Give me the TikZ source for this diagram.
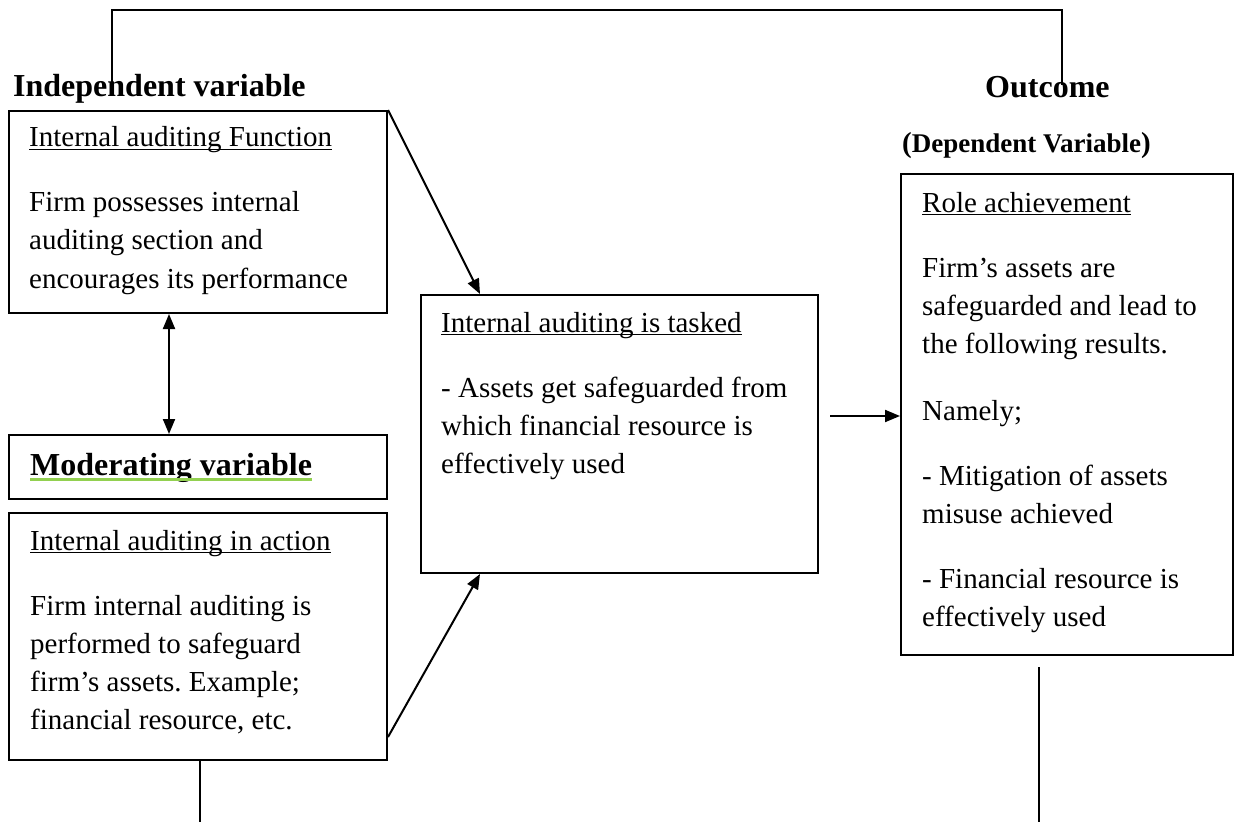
\documentclass[tikz,border=0pt]{standalone}
\usepackage{fontspec}
\setmainfont{Liberation Serif}
\usepackage{tikz}
\usetikzlibrary{arrows.meta}
\definecolor{wordgreen}{HTML}{92D050}
\newcommand{\bodyfont}{\fontsize{29}{38}\selectfont}
\newcommand{\headfont}{\fontsize{32}{38}\selectfont\bfseries}
\newcommand{\ulin}[1]{\underline{\raisebox{0pt}[\height][1pt]{#1}}}
\frenchspacing

\begin{document}
\begin{tikzpicture}[x=1pt,y=-1pt,
  box/.style={draw, line width=2pt, anchor=north west, inner sep=0pt},
  txt/.style={anchor=base west, inner sep=0pt, font=\bodyfont},
  head/.style={anchor=base west, inner sep=0pt, font=\headfont},
  arr/.style={line width=2pt, ->, >={Triangle[length=15pt,width=12pt]}},
  link/.style={line width=1.8pt}]
  \useasboundingbox (0,0) rectangle (1238,821);
  % headings
  \node[head] (indep) at (13,97) {Independent variable};
  \node[head] (outc) at (985,98) {Outcome};
  \node[anchor=base west, inner sep=0pt, font=\bfseries] (dep) at (902,153)
    {\fontsize{29}{32}\selectfont(\fontsize{27}{32}\selectfont Dependent Variable\fontsize{29}{32}\selectfont)};
  % boxes
  \node[box, minimum width=378pt, minimum height=202pt] (fn) at (8,110) {};
  \node[box, minimum width=378pt, minimum height=64pt] (mod) at (8,434) {};
  \node[box, minimum width=378pt, minimum height=247pt] (act) at (8,512) {};
  \node[box, minimum width=397pt, minimum height=278pt] (task) at (420,294) {};
  \node[box, minimum width=332pt, minimum height=481pt] (role) at (900,173) {};
  % box texts
  \node[txt] (fnT) at (29,147) {\parbox[t]{350pt}{\ulin{Internal auditing Function}\\[27pt]
    Firm possesses internal\\auditing section and\\encourages its performance}};
  \node[head] (modT) at (30,475) {Moderating variable};
  \draw[wordgreen, line width=3pt] ([yshift=-4pt]modT.base west) -- ([yshift=-4pt]modT.base east);
  \node[txt] (actT) at (30,550) {\parbox[t]{350pt}{\ulin{Internal auditing in action}\\[27pt]
    Firm internal auditing is\\performed to safeguard\\firm’s assets. Example;\\financial resource, etc.}};
  \node[txt] (taskT) at (441,332) {\parbox[t]{370pt}{\ulin{Internal auditing is tasked}\\[27pt]
    - Assets get safeguarded from\\which financial resource is\\effectively used}};
  \node[txt] (roleT) at (922,212) {\parbox[t]{300pt}{\ulin{Role achievement}\\[27pt]
    Firm’s assets are\\safeguarded and lead to\\the following results.\\[29pt]
    Namely;\\[27pt]
    - Mitigation of assets\\misuse achieved\\[27pt]
    - Financial resource is\\effectively used}};
  % connectors
  \draw[arr] (fn.north east) -- ([xshift=60pt]task.north west);
  \draw[arr] ([yshift=24pt]act.south east) -- ([xshift=60pt]task.south west);
  \draw[arr] ([xshift=11pt,yshift=18pt]task.east) -- ([yshift=18pt]task.east -| role.west);
  \draw[arr, <->] ([xshift=-29pt]fn.south) -- ([xshift=-29pt]mod.north);
  % bracket and loose lines
  \coordinate (tl) at (112,85);
  \coordinate (tr) at (1062,85);
  \draw[link] (tl) -- ++(0,-75) -| (tr);
  \draw[link] ([xshift=2pt]act.south) -- ++(0,62);
  \draw[link] ([xshift=-28pt,yshift=-11pt]role.south) -- ++(0,156);
\end{tikzpicture}
\end{document}
